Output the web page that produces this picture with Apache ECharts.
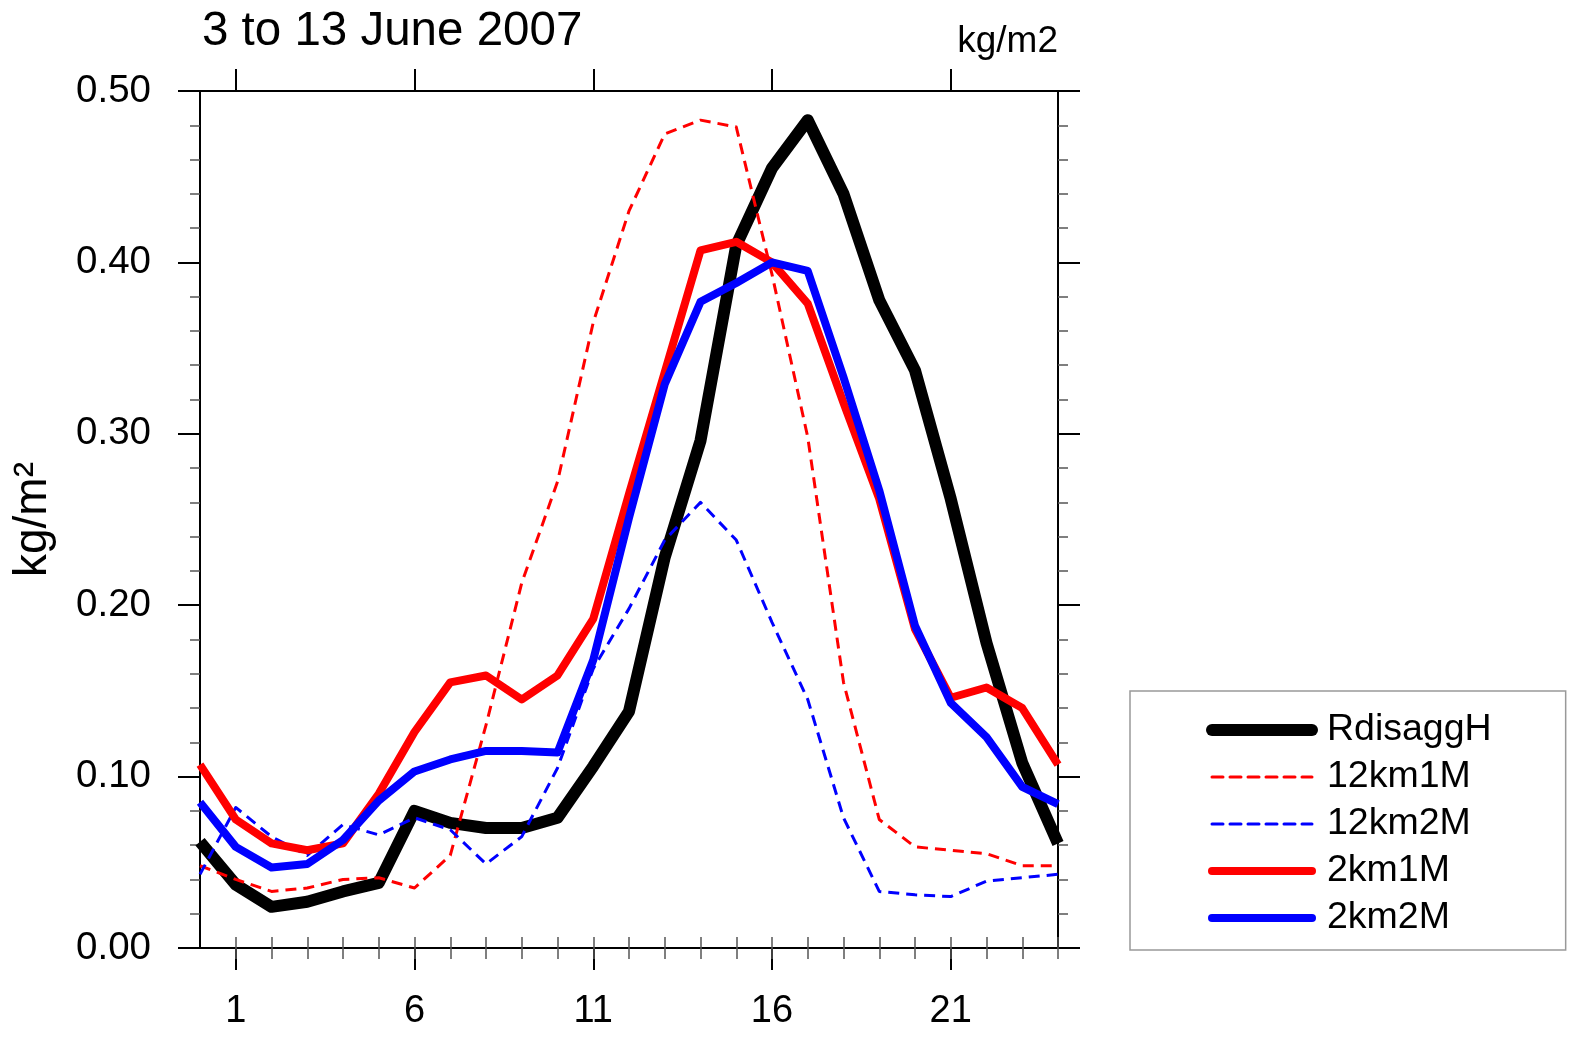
<!DOCTYPE html>
<html><head><meta charset="utf-8">
<script src="https://cdn.jsdelivr.net/npm/echarts@6/dist/echarts.min.js"></script>
<style>html,body{margin:0;padding:0;background:#fff}#c{width:1575px;height:1038px}</style>
</head><body><div id="c"></div>
<script>
// ---- data ----
const hours = [0,1,2,3,4,5,6,7,8,9,10,11,12,13,14,15,16,17,18,19,20,21,22,23,24];
const majorXTicks = [1,6,11,16,21];
const minorXTicks = [1,2,3,4,5,6,7,8,9,10,11,12,13,14,15,16,17,18,19,20,21,22,23,24];
const seriesNames = ['RdisaggH','12km1M','12km2M','2km1M','2km2M'];
const RdisaggH = [0.062,0.037,0.024,0.027,0.033,0.038,0.080,0.073,0.070,0.070,0.076,0.106,0.138,0.228,0.296,0.410,0.455,0.483,0.440,0.378,0.337,0.262,0.178,0.108,0.061];
const km12_1M  = [0.048,0.040,0.033,0.035,0.040,0.041,0.035,0.054,0.130,0.213,0.272,0.365,0.430,0.475,0.483,0.479,0.393,0.298,0.155,0.075,0.059,0.057,0.055,0.048,0.048];
const km12_2M  = [0.043,0.082,0.065,0.054,0.072,0.066,0.076,0.069,0.049,0.065,0.105,0.163,0.198,0.238,0.260,0.238,0.190,0.145,0.076,0.033,0.031,0.030,0.039,0.041,0.043];
const km2_1M   = [0.107,0.075,0.061,0.057,0.061,0.090,0.126,0.155,0.159,0.145,0.159,0.192,0.265,0.336,0.407,0.412,0.400,0.376,0.318,0.262,0.186,0.146,0.152,0.140,0.107];
const km2_2M   = [0.085,0.059,0.047,0.049,0.063,0.086,0.103,0.110,0.115,0.115,0.114,0.168,0.251,0.329,0.377,0.388,0.400,0.395,0.333,0.267,0.188,0.143,0.123,0.094,0.084];
const titleText = '3 to 13 June 2007';
const unitText = 'kg/m2';
const yName = 'kg/m\u00B2';

// ---- chart ----
const FONT = "'Liberation Sans', Arial, Helvetica, sans-serif";
const pair = arr => hours.map((h, i) => [h, arr[i]]);
const chart = echarts.init(document.getElementById('c'), null, {renderer: 'canvas'});

const frameLine = {show: true, onZero: false, lineStyle: {color: '#000', width: 2}};
const majorTick = {show: true, length: 22, lineStyle: {color: '#000', width: 2}};
const minorTickStyle = {show: true, length: 11, lineStyle: {color: '#555', width: 1.5}};

const styles = [
  {color: '#000000', width: 12, type: 'solid'},
  {color: '#ff0000', width: 3, type: [11, 7]},
  {color: '#0000ff', width: 3, type: [11, 7]},
  {color: '#ff0000', width: 8, type: 'solid'},
  {color: '#0000ff', width: 8, type: 'solid'}
];
const datasets = [RdisaggH, km12_1M, km12_2M, km2_1M, km2_2M];

chart.setOption({
  animation: false,
  backgroundColor: '#fff',
  textStyle: {fontFamily: FONT},
  title: [
    {text: titleText, left: 202, top: 8, padding: 0,
     textStyle: {fontSize: 47.5, fontWeight: 'normal', color: '#000', fontFamily: FONT}},
    {text: unitText, right: 517, top: 23, padding: 0,
     textStyle: {fontSize: 37, fontWeight: 'normal', color: '#000', fontFamily: FONT}}
  ],
  grid: {left: 200, right: 517, top: 91, bottom: 90, containLabel: false},
  legend: {
    orient: 'vertical', left: 1130, top: 691,
    padding: [20, 74, 13, 76],
    borderColor: '#999', borderWidth: 1.5, backgroundColor: '#fff',
    itemGap: 9, itemWidth: 100, itemHeight: 37,
    itemStyle: {opacity: 0, borderWidth: 0},
    lineStyle: {width: 'inherit', cap: 'round', opacity: 1},
    textStyle: {fontSize: 37.5, color: '#000', fontFamily: FONT, padding: [0, 0, 0, 10]},
    data: seriesNames
  },
  xAxis: [
    {type: 'value', position: 'bottom', min: 0, max: 24, axisLine: frameLine,
     axisTick: Object.assign({customValues: majorXTicks}, majorTick),
     axisLabel: {customValues: majorXTicks, fontSize: 38, color: '#000', margin: 45, fontFamily: FONT},
     splitLine: {show: false}},
    {type: 'value', position: 'bottom', min: 0, max: 24, axisLine: {show: false},
     axisTick: Object.assign({customValues: minorXTicks}, minorTickStyle),
     axisLabel: {show: false}, splitLine: {show: false}},
    {type: 'value', position: 'top', min: 0, max: 24, axisLine: frameLine,
     axisTick: Object.assign({customValues: majorXTicks}, majorTick),
     axisLabel: {show: false}, splitLine: {show: false}},
    {type: 'value', position: 'top', min: 0, max: 24, axisLine: {show: false},
     axisTick: Object.assign({customValues: minorXTicks}, minorTickStyle),
     axisLabel: {show: false}, splitLine: {show: false}}
  ],
  yAxis: [
    {type: 'value', position: 'left', min: 0, max: 0.5, interval: 0.1,
     axisLine: frameLine, axisTick: majorTick,
     minorTick: Object.assign({splitNumber: 5}, minorTickStyle, {length: 10}),
     axisLabel: {fontSize: 38.5, color: '#000', margin: 49, fontFamily: FONT,
                 formatter: v => v.toFixed(2)},
     splitLine: {show: false}, minorSplitLine: {show: false},
     name: yName, nameLocation: 'middle', nameRotate: 90, nameGap: 144,
     nameTextStyle: {fontSize: 46, color: '#000', fontFamily: FONT}},
    {type: 'value', position: 'right', min: 0, max: 0.5, interval: 0.1,
     axisLine: frameLine, axisTick: majorTick,
     minorTick: Object.assign({splitNumber: 5}, minorTickStyle, {length: 10}),
     axisLabel: {show: false}, splitLine: {show: false}, minorSplitLine: {show: false}}
  ],
  series: seriesNames.map((name, k) => ({
    name: name, type: 'line', xAxisIndex: 0, yAxisIndex: 0,
    data: pair(datasets[k]), symbol: 'none', smooth: false, clip: true,
    z: 2 + k,
    lineStyle: {color: styles[k].color, width: styles[k].width, type: styles[k].type, join: 'round'},
    itemStyle: {color: styles[k].color}
  }))
});
</script></body></html>
